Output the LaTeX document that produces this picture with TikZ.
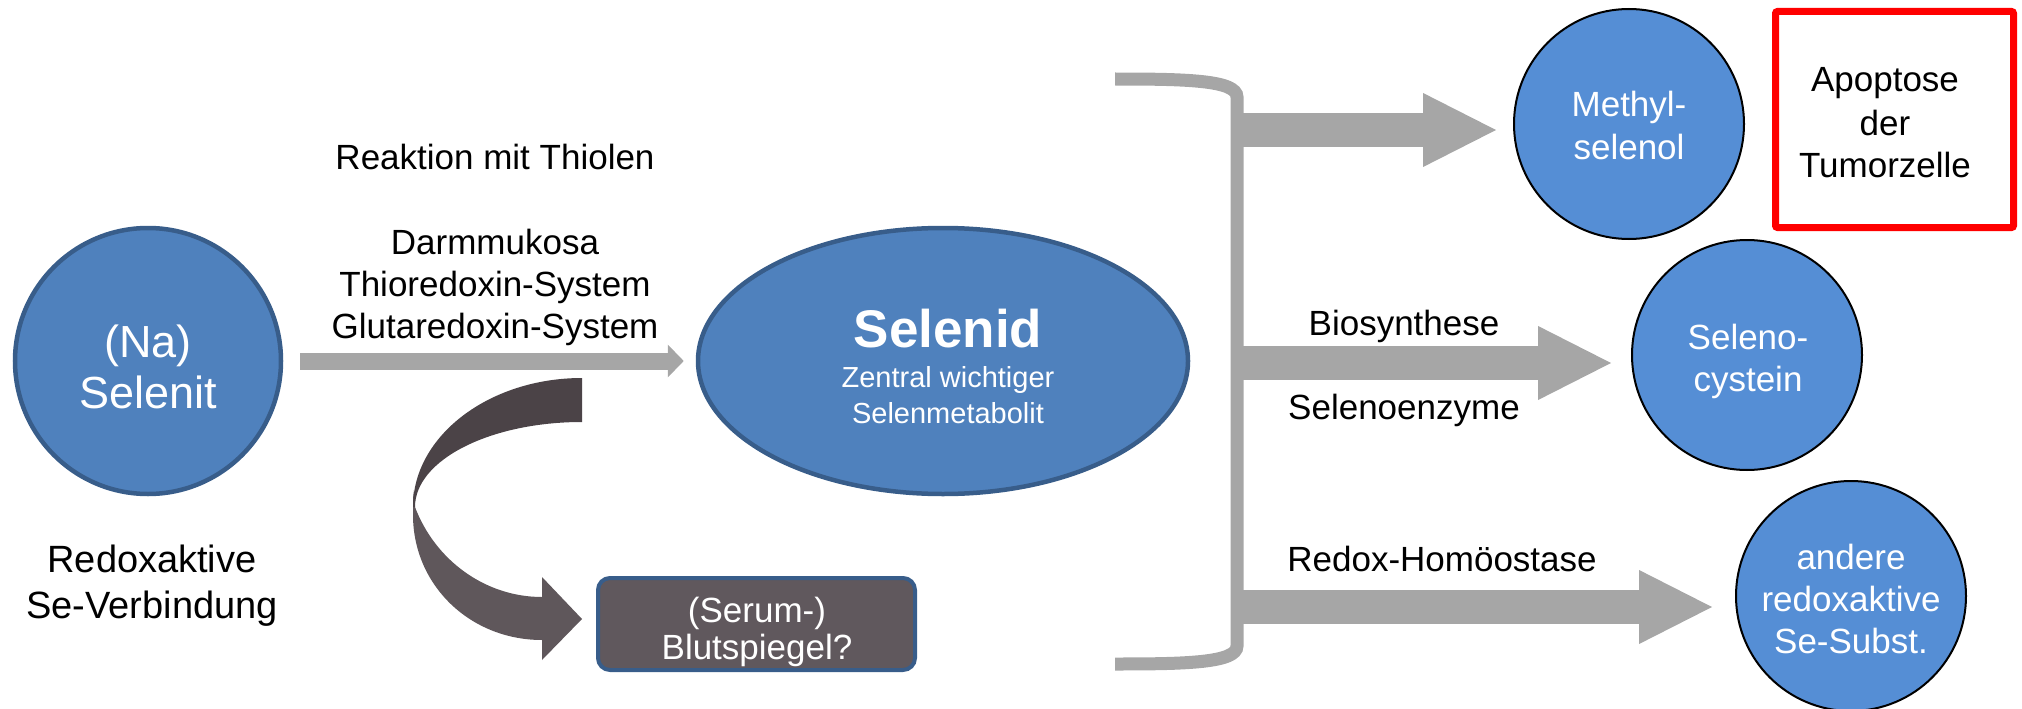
\documentclass[tikz,border=0pt]{standalone}
\usepackage{fontspec}
\setmainfont{Liberation Sans}
\usetikzlibrary{shapes.geometric,arrows.meta}
\definecolor{dblue}{HTML}{4F81BD}
\definecolor{dborder}{HTML}{385D8A}
\definecolor{lblue}{HTML}{558ED5}
\definecolor{agray}{HTML}{A6A6A6}
\definecolor{brownA}{HTML}{4B4347}
\definecolor{brownB}{HTML}{5F575B}
\definecolor{boxfill}{HTML}{60585D}
\definecolor{redbox}{HTML}{FF0000}
\newcommand{\myfs}[1]{\fontsize{#1pt}{#1pt}\selectfont}
\begin{document}
\begin{tikzpicture}[x=1pt,y=-1pt,
  darkcirc/.style={ellipse, fill=dblue, draw=dborder, line width=4.5pt, inner sep=0pt},
  lightcirc/.style={circle, fill=lblue, draw=black, line width=2pt, inner sep=0pt, minimum size=230pt},
  lbl/.style={anchor=base, inner sep=0pt, text=black, font=\myfs{35}},
  wlbl/.style={anchor=base, inner sep=0pt, text=white, font=\myfs{35}},
  bigarrow/.style={draw=agray, line width=34pt, -{Triangle[length=75pt,width=68pt]}},
  thinarrow/.style={draw=agray, line width=17pt, -{Triangle[length=16pt,width=32pt]}},
]
\useasboundingbox (0,0) rectangle (2022,709);

% left circle
\node[darkcirc, minimum width=266pt, minimum height=266pt] (selenit) at (148,361) {};
\node[wlbl, font=\myfs{45}] (na) at (148,357) {(Na)};
\node[wlbl, font=\myfs{45}] (selenittxt) at (148,408) {Selenit};
\node[lbl, font=\myfs{38}] (redox1) at (152,572) {Redoxaktive};
\node[lbl, font=\myfs{38}] (redox2) at (152,618) {Se-Verbindung};

% top labels
\node[lbl] (reak) at (495,169) {Reaktion mit Thiolen};
\node[lbl] (darm) at (495,254) {Darmmukosa};
\node[lbl] (thio) at (495,296) {Thioredoxin-System};
\node[lbl] (glut) at (495,338) {Glutaredoxin-System};

% Selenid
\node[darkcirc, minimum width=490pt, minimum height=266pt] (selenid) at (943,361) {};
\node[wlbl, font=\myfs{53}\bfseries] (selenidtxt) at (948,347) {Selenid};
\node[wlbl, font=\myfs{29}] (zentral) at (948,387) {Zentral wichtiger};
\node[wlbl, font=\myfs{29}] (metab) at (948,423) {Selenmetabolit};

\draw[thinarrow] ([xshift=17pt]selenit.east) -- ([xshift=-12pt]selenid.west);

% curved arrow
\fill[brownB] (413,490) -- (415,507) .. controls (435,560) and (485,597) .. (542,597)
  -- (542,577) -- (582,619) -- (542,660) -- (542,640)
  .. controls (470,640) and (413,585) .. (413,515) -- cycle;
\fill[brownA] (582,378) -- (582,422) .. controls (490,422) and (415,460) .. (415,507)
  -- (413,507) .. controls (413,436) and (489,378) .. (582,378) -- cycle;

% blood box
\node[draw=dborder, fill=boxfill, line width=4pt, rounded corners=12pt, minimum width=317pt, minimum height=92pt, inner sep=0pt] (blut) at (756.5,624) {};
\node[wlbl] (serum) at (757,622) {(Serum-)};
\node[wlbl] (spiegel) at (757,659) {Blutspiegel?};

% bracket
\draw[agray, line width=13pt] (1115,79) .. controls (1185,79) and (1237,80) .. (1237,97)
  -- (1237,646) .. controls (1237,663) and (1185,664) .. (1115,664);

% right circles
\node[lightcirc] (methyl) at (1629,124) {};
\node[wlbl] (m1) at (1629,117) {Methyl-};
\node[wlbl] (m2) at (1629,159) {selenol};
\node[lightcirc] (seleno) at (1747,355) {};
\node[wlbl] (s1) at (1748,349) {Seleno-};
\node[wlbl] (s2) at (1748,391) {cystein};
\node[lightcirc] (andere) at (1851,596) {};
\node[wlbl] (a1) at (1851,569) {andere};
\node[wlbl] (a2) at (1851,611) {redoxaktive};
\node[wlbl] (a3) at (1851,653) {Se-Subst.};

% bracket arrows
\coordinate (b1) at (1237,130);
\coordinate (b2) at (1237,363);
\coordinate (b3) at (1237,607);
\draw[bigarrow, shorten >=15pt] (b1) -- (b1 -| methyl.west);
\draw[bigarrow, shorten >=18pt] (b2) -- (b2 -| seleno.west);
\draw[bigarrow, shorten >=21pt] (b3) -- (b3 -| andere.west);

\node[lbl] (bio) at (1404,335) {Biosynthese};
\node[lbl] (enz) at (1404,419) {Selenoenzyme};
\node[lbl] (homo) at (1442,571) {Redox-Homöostase};

% red box
\node[draw=redbox, line width=7pt, rounded corners=2pt, minimum width=238pt, minimum height=216pt, inner sep=0pt] (apo) at (1894.5,119.5) {};
\node[lbl] (ap1) at (1885,92) {Apoptose};
\node[lbl] (ap2) at (1885,135) {der};
\node[lbl] (ap3) at (1885,177) {Tumorzelle};
\end{tikzpicture}
\end{document}
